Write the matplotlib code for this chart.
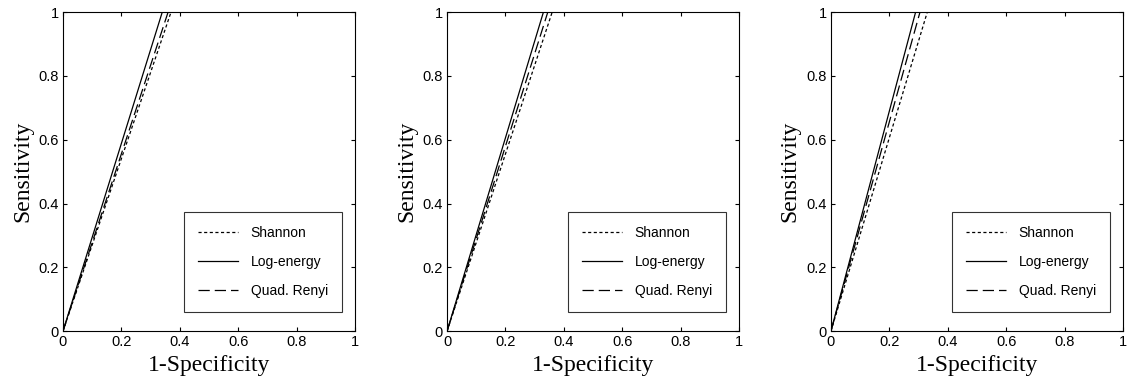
import matplotlib
matplotlib.use('Agg')
import matplotlib.pyplot as plt

# false positive rate where each ROC line reaches sensitivity 1, per panel
methods = ['Shannon', 'Log-energy', 'Quad. Renyi']
styles = [(0, (2.5, 2)), '-', (0, (9, 4))]
fpr_at_one = [
    [0.37, 0.34, 0.36],
    [0.36, 0.33, 0.345],
    [0.33, 0.29, 0.305],
]
ticks = [0, 0.2, 0.4, 0.6, 0.8, 1]
tick_labels = ['0', '0.2', '0.4', '0.6', '0.8', '1']

fig = plt.figure(figsize=(11.29, 3.9), dpi=100)
lefts = [0.0558, 0.396, 0.736]

for left, fprs in zip(lefts, fpr_at_one):
    ax = fig.add_axes([left, 0.151, 0.2586, 0.818])
    for name, ls, f in zip(methods, styles, fprs):
        ax.plot([0, f], [0, 1], color='black', linestyle=ls, linewidth=0.9, label=name)
    ax.set_xlim(0, 1)
    ax.set_ylim(0, 1)
    ax.set_xticks(ticks)
    ax.set_yticks(ticks)
    ax.set_xticklabels(tick_labels, family='Liberation Sans', fontsize=10.5)
    ax.set_yticklabels(tick_labels, family='Liberation Sans', fontsize=10.5)
    ax.tick_params(direction='in', top=True, right=True, length=3, pad=3)
    ax.set_xlabel('1-Specificity', family='Liberation Serif', fontsize=17, labelpad=4)
    ax.set_ylabel('Sensitivity', family='Liberation Serif', fontsize=17, labelpad=4)
    leg = ax.legend(loc='lower right', bbox_to_anchor=(0.955, 0.06),
                    prop={'family': 'Liberation Sans', 'size': 10},
                    frameon=True, fancybox=False, edgecolor='black',
                    handlelength=2.9, handletextpad=0.9, labelspacing=1.1,
                    borderpad=1.0, borderaxespad=0)
    leg.get_frame().set_linewidth(0.8)

plt.savefig('out.png', dpi=100)
